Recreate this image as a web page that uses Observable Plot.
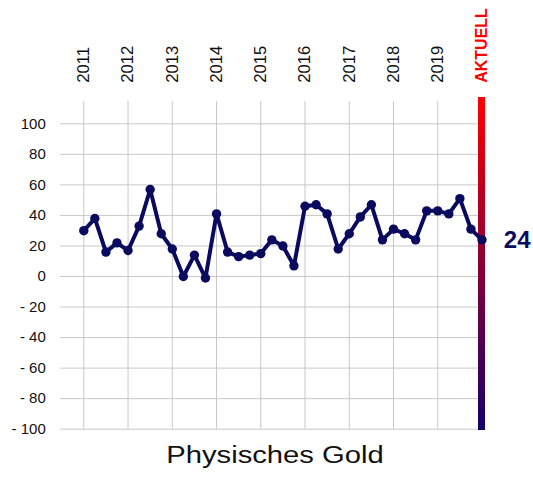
<!DOCTYPE html>
<html>
<head>
<meta charset="utf-8">
<script src="https://cdn.jsdelivr.net/npm/d3@7"></script>
<script src="https://cdn.jsdelivr.net/npm/@observablehq/plot@0.6"></script>
<style>
  html, body { margin: 0; padding: 0; background: #fff; overflow: hidden; }
  body { font-family: "Liberation Sans", Arial, sans-serif; }
  #wrap { position: relative; width: 533px; height: 477px; }
  #title {
    position: absolute; top: 444px; left: 20px; width: 510px;
    text-align: center; font-size: 23px; line-height: 23px; color: #111;
    transform: scaleX(1.27); transform-origin: center;
  }
</style>
</head>
<body>
<div id="wrap">
  <div id="chart"></div>
  <div id="title">Physisches Gold</div>
</div>
<script>
// ---- data ----
const years = [2011, 2012, 2013, 2014, 2015, 2016, 2017, 2018, 2019];
const yearLabels = ["2011", "2012", "2013", "2014", "2015", "2016", "2017", "2018", "2019"];
const currentLabel = "AKTUELL";
const currentPosition = 2020;
// quarterly readings 2011 Q1 … 2019 Q4, then the current value
const values = [
  30, 38, 16, 22,
  17, 33, 57, 28,
  18, 0, 14, -1,
  41, 16, 13, 14,
  15, 24, 20, 7,
  46, 47, 41, 18,
  28, 39, 47, 24,
  31, 28, 24, 43,
  43, 41, 51, 31,
  24
];
const yTicks = [-100, -80, -60, -40, -20, 0, 20, 40, 60, 80, 100];

// ---- build table ----
const periods = years.flatMap(y => [0, 1, 2, 3].map(q => y + q / 4)).concat([currentPosition]);
const data = values.map((v, i) => ({x: periods[i], v}));
const last = data[data.length - 1];
const fmt = v => v < 0 ? "- " + Math.abs(v) : String(v);

const navy = "#0a0a5f";
const grid = "#c8c8c8";

const defs = () => {
  const d = d3.create("svg:defs");
  const g = d.append("linearGradient").attr("id", "barGrad")
    .attr("x1", 0).attr("y1", 0).attr("x2", 0).attr("y2", 1);
  g.append("stop").attr("offset", "0%").attr("stop-color", "#ff0000");
  g.append("stop").attr("offset", "100%").attr("stop-color", "#14006b");
  return d.node();
};

const chart = Plot.plot({
  width: 533,
  height: 440,
  marginLeft: 83.3,
  marginRight: 51.5,
  marginTop: 123.3,
  marginBottom: 11.3,
  x: {domain: [2011, 2020], axis: null},
  y: {domain: [-100, 100], axis: null},
  style: {fontFamily: "'Liberation Sans', Arial, sans-serif", background: "white", overflow: "visible"},
  marks: [
    defs,
    Plot.ruleY(yTicks, {y: d => d, stroke: grid, strokeWidth: 1, insetLeft: -23.3}),
    Plot.ruleX(years, {x: d => d, stroke: grid, strokeWidth: 1, insetTop: -22.3}),
    Plot.text(yTicks, {y: d => d, text: fmt, frameAnchor: "left", lineAnchor: "middle", dx: -38, textAnchor: "end", fontSize: 15, fill: "#111"}),
    Plot.text(years, {x: d => d, text: (d, i) => yearLabels[i], frameAnchor: "top", lineAnchor: "middle", dy: -41, rotate: -90, textAnchor: "start", fontSize: 16.6, fill: "#111"}),
    Plot.text([currentPosition], {x: d => d, text: () => currentLabel, frameAnchor: "top", lineAnchor: "middle", dy: -41, rotate: -90, textAnchor: "start", fontSize: 16, fontWeight: "bold", fill: "#ff0000"}),
    Plot.rect([currentPosition], {x1: d => d, x2: d => d, y1: () => -100, y2: () => 100,
      insetLeft: -3.5, insetRight: -3.5, insetTop: -26.3, insetBottom: -1.3, fill: "url(#barGrad)"}),
    Plot.line(data, {x: "x", y: "v", stroke: navy, strokeWidth: 4, strokeLinejoin: "round"}),
    Plot.dot(data, {x: "x", y: "v", r: 4.7, fill: navy}),
    Plot.text([last], {x: "x", y: "v", text: d => String(d.v), dx: 21.8, textAnchor: "start", lineAnchor: "middle", fontSize: 24, fontWeight: "bold", fill: navy})
  ]
});
document.getElementById("chart").appendChild(chart);
</script>
</body>
</html>
